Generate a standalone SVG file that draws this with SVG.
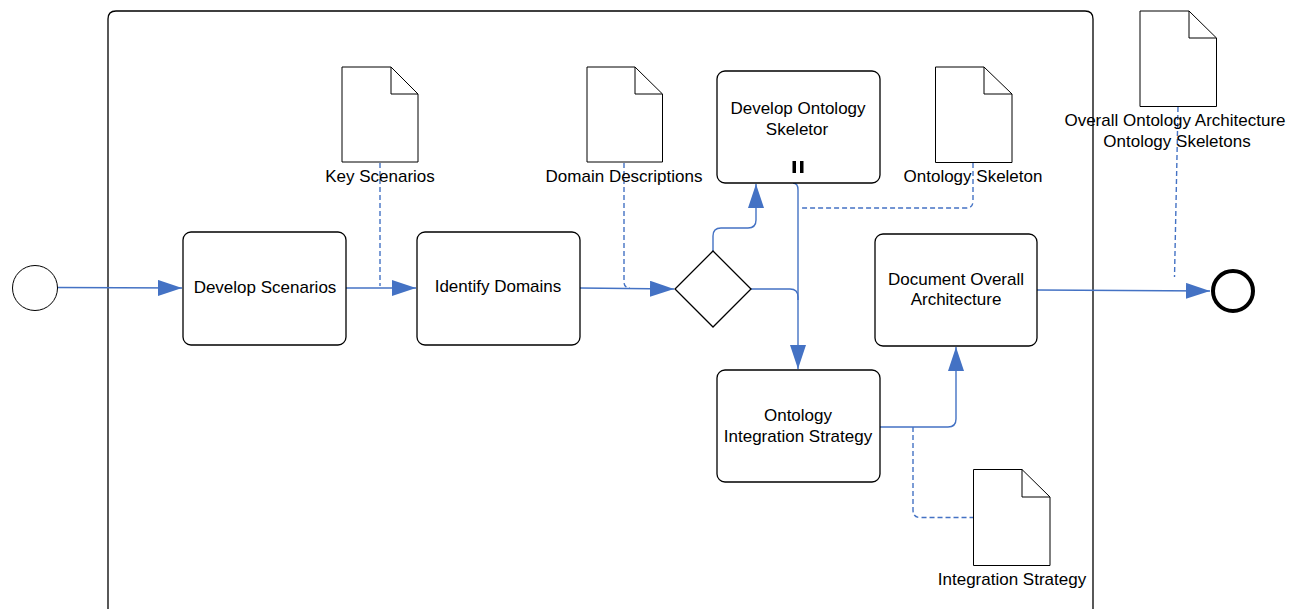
<svg xmlns="http://www.w3.org/2000/svg" width="1300" height="609" viewBox="0 0 1300 609">
  <style>
    .task { fill: #ffffff; stroke: #000000; stroke-width: 1.3; }
    .doc { fill: #ffffff; stroke: #000000; stroke-width: 1; }
    .lbl { font-family: "Liberation Sans", Arial, sans-serif; font-size: 17px; fill: #000000; text-anchor: middle; }
    .flow { fill: none; stroke: #4472C4; stroke-width: 1.4; }
    .assoc { fill: none; stroke: #4472C4; stroke-width: 1.4; stroke-dasharray: 5 3; }
  </style>
  <defs>
    <marker id="arrow" viewBox="0 0 24 16" refX="24" refY="8" markerWidth="24" markerHeight="16" markerUnits="userSpaceOnUse" orient="auto">
      <path d="M0,0 L24,8 L0,16 Z" fill="#4472C4"/>
    </marker>
  </defs>

  <!-- pool -->
  <g id="pool">
    <path d="M108,620 V19 Q108,11 116,11 H1085 Q1093,11 1093,19 V620" fill="none" stroke="#000000" stroke-width="1.3"/>
  </g>

  <!-- connectors -->
  <g id="connectors">
    <path class="flow" d="M57,287.5 L182,288" marker-end="url(#arrow)"/>
    <path class="flow" d="M346,288 H416" marker-end="url(#arrow)"/>
    <path class="assoc" d="M380,163 V286"/>
    <path class="flow" d="M580,288 L674,289" marker-end="url(#arrow)"/>
    <path class="assoc" d="M624,163 V282 Q624,288 630,288"/>
    <path class="flow" d="M713,251 V236 Q713,228 721,228 H748 Q756,228 756,220 V184" marker-end="url(#arrow)"/>
    <path class="flow" d="M751,289 H790 Q798,289 798,297 V369" marker-end="url(#arrow)"/>
    <path class="flow" d="M793,183 Q798,183 798,190 V300"/>
    <path class="assoc" d="M973,163 V201 Q973,208 966,208 H800"/>
    <path class="flow" d="M880,427 H948 Q956,427 956,419 V347" marker-end="url(#arrow)"/>
    <path class="assoc" d="M913,427 V510 Q913,517.5 920,517.5 H973"/>
    <path class="flow" d="M1037,290 L1210,291" marker-end="url(#arrow)"/>
    <path class="assoc" d="M1178,107 L1174.5,277"/>
  </g>

  <!-- events -->
  <g id="start">
    <circle cx="35" cy="288" r="22.5" fill="#ffffff" stroke="#000000" stroke-width="1"/>
  </g>
  <g id="end">
    <circle cx="1233" cy="291" r="20" fill="#ffffff" stroke="#000000" stroke-width="4"/>
  </g>

  <!-- tasks -->
  <g id="develop-scenarios">
    <rect class="task" x="183" y="232" width="163" height="113" rx="8"/>
    <text class="lbl" x="265" y="293">Develop Scenarios</text>
  </g>
  <g id="identify-domains">
    <rect class="task" x="417" y="232" width="163" height="113" rx="8"/>
    <text class="lbl" x="498" y="292">Identify Domains</text>
  </g>
  <g id="gateway">
    <path d="M713,251 L751,289 L713,327 L675,289 Z" fill="#ffffff" stroke="#000000" stroke-width="1.3"/>
  </g>
  <g id="develop-ontology-skeletor">
    <rect class="task" x="717" y="71" width="163" height="112" rx="8"/>
    <text class="lbl" x="798" y="114">Develop Ontology</text>
    <text class="lbl" x="797" y="135">Skeletor</text>
    <!-- parallel multi-instance marker -->
    <rect x="792.5" y="161" width="3.5" height="12" fill="#000000"/>
    <rect x="800" y="161" width="3.5" height="12" fill="#000000"/>
  </g>
  <g id="ontology-integration-strategy">
    <rect class="task" x="717" y="370" width="163" height="112" rx="8"/>
    <text class="lbl" x="798" y="421">Ontology</text>
    <text class="lbl" x="798" y="441.5">Integration Strategy</text>
  </g>
  <g id="document-overall-architecture">
    <rect class="task" x="875" y="234" width="162" height="112" rx="8"/>
    <text class="lbl" x="956" y="285">Document Overall</text>
    <text class="lbl" x="956" y="304.5">Architecture</text>
  </g>

  <!-- data objects -->
  <g id="doc-key-scenarios">
    <path class="doc" d="M342,67 H391 L418,94 V162 H342 Z M391,67 V94 H418"/>
    <text class="lbl" x="380" y="182">Key Scenarios</text>
  </g>
  <g id="doc-domain-descriptions">
    <path class="doc" d="M587,67 H635 L662.5,94 V162 H587 Z M635,67 V94 H662.5"/>
    <text class="lbl" x="624" y="182">Domain Descriptions</text>
  </g>
  <g id="doc-ontology-skeleton">
    <path class="doc" d="M935.5,67 H984 L1012,94 V162.5 H935.5 Z M984,67 V94 H1012"/>
    <text class="lbl" x="973" y="182">Ontology Skeleton</text>
  </g>
  <g id="doc-overall-architecture">
    <path class="doc" d="M1140,11 H1189 L1216.5,38 V106.5 H1140 Z M1189,11 V38 H1216.5"/>
    <text class="lbl" x="1175" y="125.5">Overall Ontology Architecture</text>
    <text class="lbl" x="1177" y="146.5">Ontology Skeletons</text>
  </g>
  <g id="doc-integration-strategy">
    <path class="doc" d="M973.5,469.5 H1022 L1050,497 V565.5 H973.5 Z M1022,469.5 V497 H1050"/>
    <text class="lbl" x="1012" y="584.5">Integration Strategy</text>
  </g>
</svg>
